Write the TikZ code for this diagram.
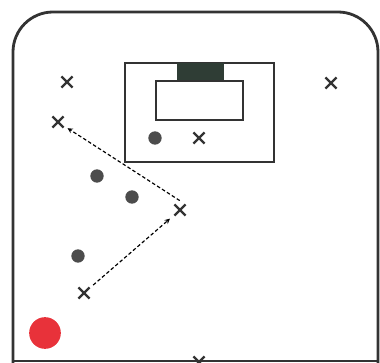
\documentclass[tikz,border=0pt]{standalone}
\usepackage{xcolor}
\usetikzlibrary{shapes.misc, arrows, positioning}

\definecolor{goalgray}{HTML}{2F3D35}
\definecolor{ballred}{HTML}{E8323A}

\begin{document}
\begin{tikzpicture}[x=0.03cm, y=-0.03cm,
  player/.style={cross out, draw, line width=1.9pt, black!80,
                 minimum size=0.27cm, inner sep=0pt},
  opp/.style={circle, fill=black!70, minimum size=0.4cm, inner sep=0pt},
  arrow/.style={->, >=stealth, dash pattern=on 3pt off 2pt, line width=1pt}
]
\useasboundingbox (0,0) rectangle (380,363);

% field
\draw[line width=2.4pt, black!80] (13,363) -- (13,52) arc (180:270:40)
  -- (338,12) arc (270:360:40) -- (378,363);
\draw[line width=2.4pt, black!80] (13,361) -- (378,361);

% goal area
\draw[line width=1.2pt, black!80] (125,63) rectangle (274,162);
\fill[goalgray] (177,63) rectangle (224,81);
\draw[line width=1.2pt, black!80, fill=white] (156,81) rectangle (243,120);

% players
\node[player] (xa) at (67,82) {};
\node[player] (xb) at (331,83) {};
\node[player] (xc) at (58,122) {};
\node[player] (xd) at (180,210) {};
\node[player] (xe) at (84,293) {};
\node[player] (xf) at (199,138) {};
\node[player] (xg) at (199,362) {};

% defenders
\node[opp] (oa) at (155,138) {};
\node[opp] (ob) at (97,176) {};
\node[opp] (oc) at (132,197) {};
\node[opp] (od) at (78,256) {};

% ball
\node[circle, fill=ballred, minimum size=0.95cm, inner sep=0pt] (ball) at (45,333) {};

% passes
\draw[arrow, shorten <=6pt, shorten >=4pt] (xd.north east) -- (xc);
\draw[arrow, shorten <=4pt, shorten >=5pt] (xe) -- (xd);
\end{tikzpicture}
\end{document}
